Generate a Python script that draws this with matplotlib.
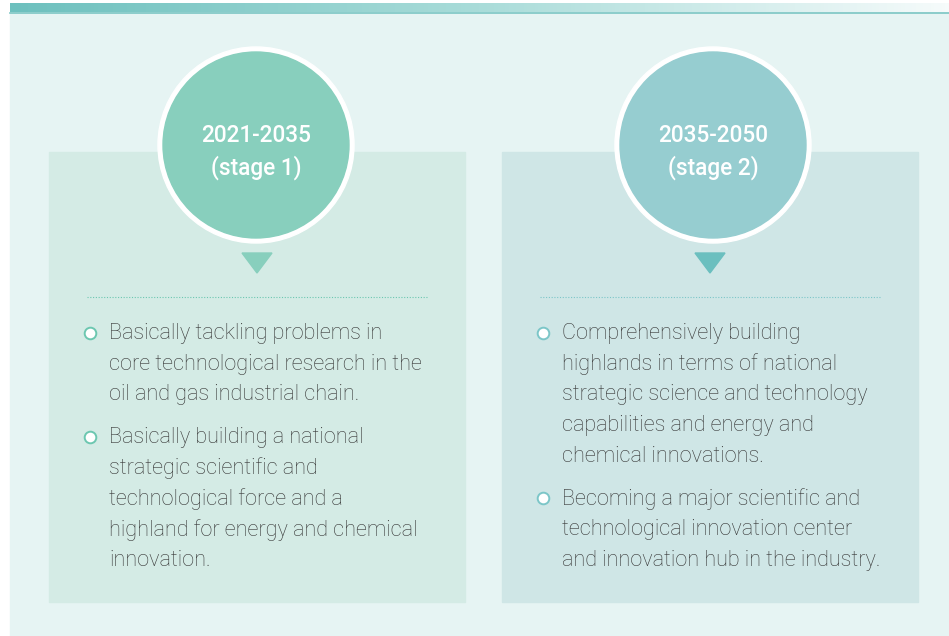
import numpy as np
import matplotlib.pyplot as plt
from matplotlib.patches import Rectangle, Circle, Polygon
from matplotlib.colors import LinearSegmentedColormap

plt.rcParams['font.family'] = ['Roboto', 'DejaVu Sans']

# 内容
periods = ['2021-2035', '2035-2050']
stage_names = ['(stage 1)', '(stage 2)']
bullets = [
    [
        ['Basically tackling problems in',
         'core technological research in the',
         'oil and gas industrial chain.'],
        ['Basically building a national',
         'strategic scientific and',
         'technological force and a',
         'highland for energy and chemical',
         'innovation.'],
    ],
    [
        ['Comprehensively building',
         'highlands in terms of national',
         'strategic science and technology',
         'capabilities and energy and',
         'chemical innovations.'],
        ['Becoming a major scientific and',
         'technological innovation center',
         'and innovation hub in the industry.'],
    ],
]

# 样式
box_colors = ['#d4ebe5', '#cfe6e6']
circle_colors = ['#88cfbd', '#96cdd0']
tri_colors = ['#88cfbd', '#6bbfbf']
accent = ['#6cc7b0', '#7cc6c8']
text_color = '#363636'

W, H = 949, 636
fig = plt.figure(figsize=(W / 100, H / 100), dpi=100)
ax = fig.add_axes([0, 0, 1, 1])
ax.set_xlim(0, W)
ax.set_ylim(H, 0)
ax.axis('off')

# 背景
ax.add_patch(Rectangle((10, 12), W - 10, H - 12, color='#e6f4f3', zorder=0))
grad = np.linspace(0, 1, 256).reshape(1, -1)
cmap = LinearSegmentedColormap.from_list('bar', ['#6dc0be', '#a9dcd9', '#f6fbfb'])
ax.imshow(grad, cmap=cmap, extent=(10, W, 12, 3), aspect='auto', zorder=1)
ax.plot([10, W], [12.5, 12.5], color='#7cc6c4', lw=1.2, zorder=2)

box_x = [49, 502]
circle_x = [256, 713]
box_w = 416
for i in range(2):
    x0 = box_x[i]
    cx = x0 + 208
    ax.add_patch(Rectangle((x0, 152), box_w, 450, color=box_colors[i], zorder=1))
    # 圆
    ccx = circle_x[i]
    ax.add_patch(Circle((ccx, 145), 98, color='white', zorder=3))
    ax.add_patch(Circle((ccx, 145), 93, color=circle_colors[i], zorder=4))
    ax.text(ccx, 135.5, periods[i], color='white', fontsize=16.3, ha='center',
            va='center', fontweight='medium', zorder=5)
    ax.text(ccx, 167.5, stage_names[i], color='white', fontsize=16.3, ha='center',
            va='center', fontweight='medium', zorder=5)
    # 三角
    ax.add_patch(Polygon([[cx - 15, 253], [cx + 15, 253], [cx, 273]],
                         color=tri_colors[i], zorder=3))
    # 虚线
    ax.plot([x0 + 38, x0 + 379], [297, 297], color=accent[i], lw=0.8,
            ls=(0, (1, 1.5)), zorder=3)
    # 要点
    y = 333.5
    for item in bullets[i]:
        ax.scatter([x0 + 41], [y - 1], s=70, facecolor='white',
                   edgecolor=accent[i], linewidth=1.4, zorder=5)
        for line in item:
            ax.text(x0 + 60, y, line, color=text_color, fontsize=15.6,
                    fontweight='light', ha='left', va='center', zorder=5)
            y += 30.7
        y += 12

fig.savefig('out.png', dpi=100)
